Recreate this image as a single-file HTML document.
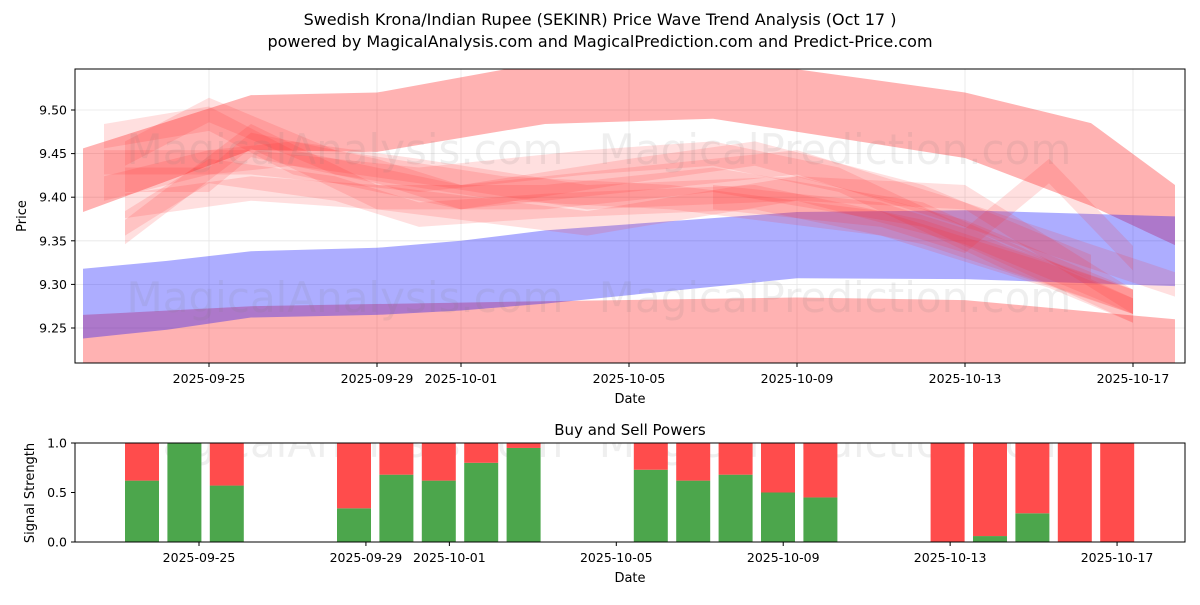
<!DOCTYPE html>
<html><head><meta charset="utf-8"><style>
body{margin:0;background:#fff;font-family:"Liberation Sans","DejaVu Sans",sans-serif}
svg text{font-family:"DejaVu Sans","Liberation Sans",sans-serif}
</style></head><body>
<svg id="c" width="1200" height="600" xmlns="http://www.w3.org/2000/svg">
<rect width="1200" height="600" fill="#fff"/>
<text x="600" y="25" text-anchor="middle" font-size="16">Swedish Krona/Indian Rupee (SEKINR) Price Wave Trend Analysis (Oct 17 )</text>
<text x="600" y="47" text-anchor="middle" font-size="16">powered by MagicalAnalysis.com and MagicalPrediction.com and Predict-Price.com</text>
<defs>
<clipPath id="cp1"><rect x="75" y="69" width="1110" height="294"/></clipPath>
<clipPath id="cp2"><rect x="75" y="443" width="1110" height="99"/></clipPath>
</defs>
<g id="topg" clip-path="url(#cp1)"></g>
<g id="botg" clip-path="url(#cp2)"></g>
<g id="axes"></g>
</svg>
<script>
const bigUpperDays = [0,4,7,11,15,21,24,26];
const bigUpperTop = [9.456,9.517,9.52,9.555,9.56,9.52,9.485,9.414];
const bigUpperBot = [9.383,9.454,9.452,9.484,9.49,9.445,9.39,9.345];
const lowerDays = [0,4,10,17,21,26];
const lowerTop = [9.265,9.275,9.28,9.285,9.282,9.26];
const blueDays = [0,2,4,7,9,11,17,21,26];
const blueTop = [9.318,9.327,9.338,9.342,9.35,9.362,9.383,9.385,9.378];
const blueBot = [9.238,9.248,9.262,9.265,9.27,9.278,9.307,9.306,9.298];
const waveDays = [
 [0.5,3,5,9,13,17,21,26],
 [0.5,3,5,8,12,17,21,25],
 [1,3,6,8,11,16,20,25],
 [1,3,4,7,9,13,16,20,24],
 [1,4,7,11,15,20,25],
 [0.5,4,8,12,15,18,22,25],
 [1,4,7,12,17,21,25],
 [1,3,6,10,14,19,23,25],
 [15,19,21,23,25]
];
const waveVals = [
 [9.47,9.49,9.44,9.40,9.42,9.44,9.38,9.30],
 [9.41,9.44,9.45,9.43,9.40,9.41,9.36,9.28],
 [9.37,9.43,9.41,9.38,9.39,9.40,9.36,9.28],
 [9.42,9.42,9.46,9.43,9.40,9.43,9.45,9.40,9.32],
 [9.39,9.41,9.40,9.40,9.42,9.38,9.27],
 [9.44,9.44,9.42,9.44,9.45,9.42,9.33,9.28],
 [9.36,9.47,9.40,9.37,9.41,9.40,9.28],
 [9.45,9.50,9.44,9.41,9.40,9.37,9.31,9.27],
 [9.40,9.38,9.35,9.43,9.33]
];
const yTicks = [9.25,9.30,9.35,9.40,9.45,9.50];
const xTickDays = [3,7,9,13,17,21,25];
const xTickLabels = ["2025-09-25","2025-09-29","2025-10-01","2025-10-05","2025-10-09","2025-10-13","2025-10-17"];
const barIdx = [0,1,2,5,6,7,8,9,12,13,14,15,16,19,20,21,22,23];
const buyPower = [0.62,1.0,0.57,0.34,0.68,0.62,0.80,0.95,0.73,0.62,0.68,0.50,0.45,0,0.06,0.29,0,0];
const bTickDays = [0,4,6,10,14,18,22];
const bTickLabels = xTickLabels;
const sTicks = [0.0,0.5,1.0];

const NS="http://www.w3.org/2000/svg";
function mk(t,a,p){const e=document.createElementNS(NS,t);for(const k in a)e.setAttribute(k,a[k]);p.appendChild(e);return e;}
const X=d=>83+42*d, Y=v=>110+(9.50-v)*872;
const topG=document.getElementById('topg'), botG=document.getElementById('botg'), ax=document.getElementById('axes');

for(const t of yTicks){const g=mk('line',{x1:75,x2:1185,y1:Y(t),y2:Y(t),stroke:'#e6e6e6','stroke-width':0.8},topG);

}
for(const d of xTickDays){const g=mk('line',{x1:X(d),x2:X(d),y1:69,y2:363,stroke:'#e6e6e6','stroke-width':0.8},topG);

}

function poly(days,tops,bots,fill,name){
 let pts=days.map((d,i)=>X(d)+','+Y(tops[i]));
 pts=pts.concat(days.slice().reverse().map((d,i)=>X(d)+','+Y(bots[bots.length-1-i])));
 const p=mk('polygon',{points:pts.join(' '),fill:fill},topG);
 
 
}
poly(bigUpperDays,bigUpperTop,bigUpperBot,'rgba(255,0,0,0.3)','upper-wave-band');
poly(lowerDays,lowerTop,lowerDays.map(()=>9.10),'rgba(255,0,0,0.3)','lower-wave-band');
poly(blueDays,blueTop,blueBot,'rgba(0,0,255,0.32)','blue-wave-band');
waveDays.forEach((ds,i)=>{
 const vs=waveVals[i];
 poly(ds,vs.map(v=>v+0.014),vs.map(v=>v-0.014),'rgba(255,40,40,0.15)','red-wave-'+i);
});
[[345,150],[835,150],[345,298],[835,298]].forEach((p,i)=>{
 const t=mk('text',{x:p[0],y:p[1]+14,'text-anchor':'middle','font-size':42,fill:'rgba(120,120,120,0.12)'},topG);
 t.textContent=i%2?'MagicalPrediction.com':'MagicalAnalysis.com';
 
 
});
mk('rect',{x:75,y:69,width:1110,height:294,fill:'none',stroke:'#000','stroke-width':1},ax);
yTicks.forEach(t=>{
 mk('line',{x1:71,x2:75,y1:Y(t),y2:Y(t),stroke:'#000'},ax);
 const l=mk('text',{x:67,y:Y(t)+4.5,'text-anchor':'end','font-size':12.5},ax);l.textContent=t.toFixed(2);
 
 
});
xTickDays.forEach((d,i)=>{
 mk('line',{x1:X(d),x2:X(d),y1:363,y2:367,stroke:'#000'},ax);
 const l=mk('text',{x:X(d),y:383,'text-anchor':'middle','font-size':12.5},ax);l.textContent=xTickLabels[i];
 
 
});
let t1=mk('text',{x:630,y:403,'text-anchor':'middle','font-size':13},ax);t1.textContent='Date';


let t2=mk('text',{x:26,y:216,'text-anchor':'middle','font-size':13,transform:'rotate(-90 26 216)'},ax);t2.textContent='Price';



const BX=i=>142+42.4*i, BT=d=>199+41.73*d, SY=v=>542-99*v;
[[345,443],[835,443]].forEach((p,i)=>{
 const t=mk('text',{x:p[0],y:p[1]+14,'text-anchor':'middle','font-size':42,fill:'rgba(120,120,120,0.12)'},botG);
 t.textContent=i?'MagicalPrediction.com':'MagicalAnalysis.com';
 
 
});
barIdx.forEach((b,i)=>{
 const v=buyPower[i];
 const g=mk('rect',{x:BX(b)-17,y:SY(v),width:34,height:99*v,fill:'#4ca64c'},botG);
 
 
 const r=mk('rect',{x:BX(b)-17,y:SY(1),width:34,height:99*(1-v),fill:'#ff4c4c'},botG);
 
 
});
mk('rect',{x:75,y:443,width:1110,height:99,fill:'none',stroke:'#000','stroke-width':1},ax);
sTicks.forEach(t=>{
 mk('line',{x1:71,x2:75,y1:SY(t),y2:SY(t),stroke:'#000'},ax);
 const l=mk('text',{x:67,y:SY(t)+4.5,'text-anchor':'end','font-size':12.5},ax);l.textContent=t.toFixed(1);
 
 
});
bTickDays.forEach((d,i)=>{
 mk('line',{x1:BT(d),x2:BT(d),y1:542,y2:546,stroke:'#000'},ax);
 const l=mk('text',{x:BT(d),y:562,'text-anchor':'middle','font-size':12.5},ax);l.textContent=bTickLabels[i];
 
 
});
let t3=mk('text',{x:630,y:582,'text-anchor':'middle','font-size':13},ax);t3.textContent='Date';


let t4=mk('text',{x:34,y:493,'text-anchor':'middle','font-size':13,transform:'rotate(-90 34 493)'},ax);t4.textContent='Signal Strength';


let t5=mk('text',{x:630,y:435,'text-anchor':'middle','font-size':15},ax);t5.textContent='Buy and Sell Powers';


</script>
</body></html>
